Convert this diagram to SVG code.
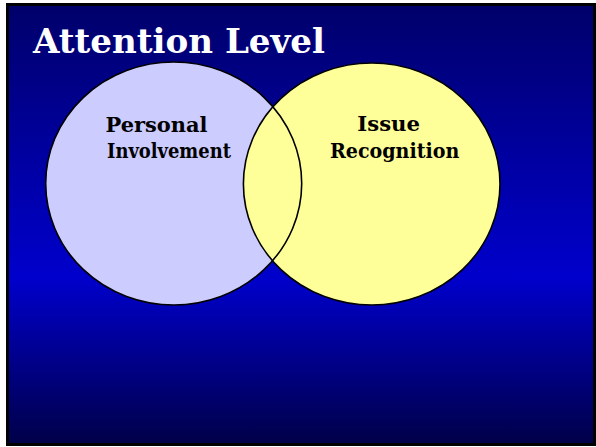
<svg xmlns="http://www.w3.org/2000/svg" width="596" height="447" viewBox="0 0 596 447">
<defs>
<linearGradient id="bg" x1="0" y1="0" x2="0" y2="1">
<stop offset="0" stop-color="#00006a"/>
<stop offset="0.62" stop-color="#0000cc"/>
<stop offset="1" stop-color="#000048"/>
</linearGradient>
<style>
.lbl{font-family:"DejaVu Serif","Liberation Serif",serif;font-weight:bold;font-size:20px;fill:#000}
.ttl{font-family:"DejaVu Serif","Liberation Serif",serif;font-weight:bold;font-size:34px;fill:#fff}
.ring{fill:none;stroke:#000;stroke-width:1.6}
</style>
</defs>
<rect x="0" y="0" width="596" height="447" fill="#fff"/>
<rect x="7.5" y="4.5" width="587" height="440" fill="url(#bg)" stroke="#000" stroke-width="3"/>
<text class="ttl" x="33" y="52.5" textLength="292" lengthAdjust="spacingAndGlyphs">Attention Level</text>
<g id="personal">
<ellipse cx="173.7" cy="183.5" rx="128" ry="121.5" fill="#ccccff"/>
</g>
<g id="issue">
<ellipse cx="371.7" cy="184" rx="128.3" ry="121" fill="#ffff99"/>
</g>
<g id="outlines">
<ellipse class="ring" cx="173.7" cy="183.5" rx="128" ry="121.5"/>
<ellipse class="ring" cx="371.7" cy="184" rx="128.3" ry="121"/>
</g>
<text class="lbl" x="105.5" y="131.5" textLength="102" lengthAdjust="spacingAndGlyphs">Personal</text>
<text class="lbl" x="107" y="158.3" textLength="124" lengthAdjust="spacingAndGlyphs">Involvement</text>
<text class="lbl" x="357.3" y="131" textLength="62.7" lengthAdjust="spacingAndGlyphs">Issue</text>
<text class="lbl" x="330" y="158.3" textLength="129.3" lengthAdjust="spacingAndGlyphs">Recognition</text>
</svg>
